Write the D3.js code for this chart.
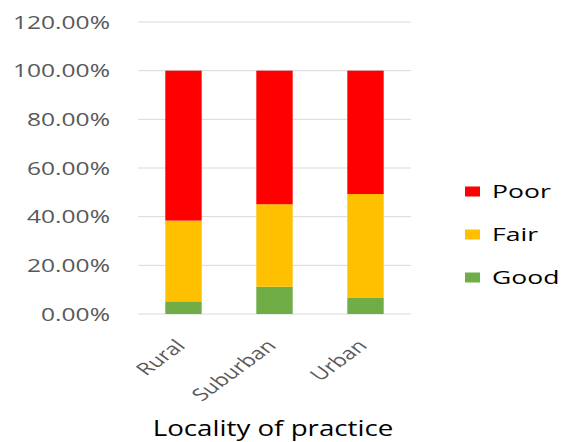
<!DOCTYPE html>
<html>
<head>
<meta charset="utf-8">
<script src="https://cdn.jsdelivr.net/npm/d3@7"></script>
<style>
  html, body { margin: 0; padding: 0; background: #fff; }
  svg { display: block; font-family: "Open Sans", sans-serif; }
</style>
</head>
<body>
<svg id="chart" width="561" height="442"></svg>
<script>
// Share of ratings by locality of practice (percent)
const categories = ["Rural", "Suburban", "Urban"];
const good = [5.2, 11.2, 6.6];
const fair = [33.2, 33.9, 42.7];
const poor = [61.6, 54.9, 50.7];
const seriesNames = ["Good", "Fair", "Poor"];
const seriesColors = ["#70ad47", "#ffc000", "#ff0000"];
const yTicks = [0, 20, 40, 60, 80, 100, 120];
const xTitle = "Locality of practice";

const rows = categories.map((c, i) => ({ cat: c, Good: good[i], Fair: fair[i], Poor: poor[i] }));

const svg = d3.select("#chart");
const m = { left: 138, right: 150, top: 22, bottom: 128 };
const W = 561, H = 442;

const x = d3.scaleBand().domain(categories).range([m.left, W - m.right]).paddingInner(0.6).paddingOuter(0.3);
const y = d3.scaleLinear().domain([0, 120]).range([H - m.bottom, m.top]);

// horizontal gridlines
svg.append("g").selectAll("line").data(yTicks).join("line")
  .attr("x1", m.left).attr("x2", W - m.right)
  .attr("y1", d => y(d)).attr("y2", d => y(d))
  .attr("stroke", "#d9d9d9").attr("stroke-width", 1);

// y-axis labels (wide lettering)
const yAxis = d3.axisLeft(y).tickValues(yTicks).tickSize(0)
  .tickFormat(d => d.toFixed(2) + "%");
const gy = svg.append("g").attr("transform", `translate(${m.left},0)`).call(yAxis);
gy.select(".domain").remove();
gy.selectAll("text")
  .attr("x", 0).attr("dy", "0.34em")
  .attr("transform", "translate(-28,0) scale(1.33,1)")
  .attr("font-family", "Open Sans, sans-serif").attr("font-size", 18.5).attr("fill", "#595959");

// stacked bars
const stack = d3.stack().keys(seriesNames)(rows);
svg.append("g").selectAll("g").data(stack).join("g")
  .attr("fill", (d, i) => seriesColors[i])
  .selectAll("rect").data(d => d).join("rect")
  .attr("x", d => x(d.data.cat))
  .attr("width", x.bandwidth())
  .attr("y", d => y(d[1]))
  .attr("height", d => y(d[0]) - y(d[1]));

// x-axis labels, slanted
const xAxis = d3.axisBottom(x).tickSize(0).tickPadding(0);
const gx = svg.append("g").attr("transform", `translate(0,${y(0)})`).call(xAxis);
gx.select(".domain").remove();
gx.selectAll("text")
  .attr("font-family", "Open Sans, sans-serif").attr("font-size", 17).attr("fill", "#595959")
  .attr("text-anchor", "end").attr("dy", null).attr("y", 0)
  .attr("transform", "translate(3,33) scale(1.38,1) rotate(-45)");

// axis title
svg.append("text")
  .attr("transform", "translate(273,436) scale(1.32,1)")
  .attr("text-anchor", "middle")
  .attr("font-size", 21).attr("fill", "#000")
  .text(xTitle);

// legend
const legendItems = seriesNames.slice().reverse();
const lg = svg.append("g").attr("transform", "translate(465,191.5)");
legendItems.forEach((name, i) => {
  const g = lg.append("g").attr("transform", `translate(0,${i * 43})`);
  g.append("rect").attr("x", 0).attr("y", -5).attr("width", 15).attr("height", 10)
    .attr("fill", seriesColors[seriesNames.indexOf(name)]);
  g.append("text").attr("transform", "translate(27,0) scale(1.42,1)").attr("dy", "0.35em")
    .attr("font-size", 18.7).attr("fill", "#000").text(name);
});
</script>
</body>
</html>
